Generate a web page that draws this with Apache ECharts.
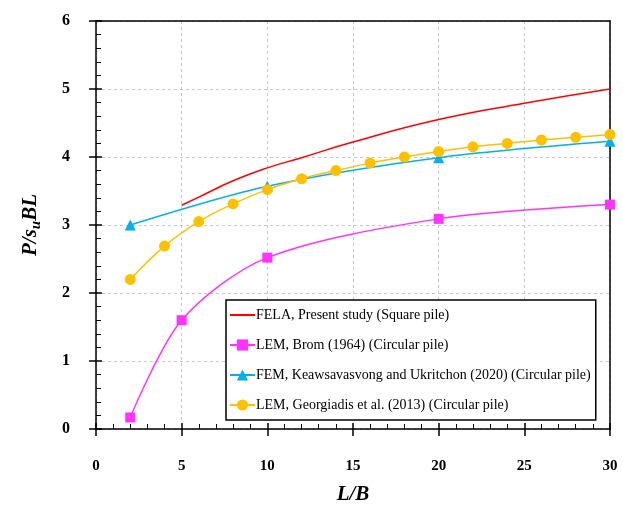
<!DOCTYPE html>
<html>
<head>
<meta charset="utf-8">
<script src="https://cdn.jsdelivr.net/npm/echarts@6/dist/echarts.min.js"></script>
<style>
html, body { margin: 0; padding: 0; background: #fff; }
#chart { width: 623px; height: 510px; }
</style>
</head>
<body>
<div id="chart"></div>
<script>
// data
var felaX = [5, 6, 8, 10, 12, 15, 20, 25, 30]
var felaY = [3.29, 3.41, 3.65, 3.84, 3.99, 4.22, 4.55, 4.79, 5.0]
var bromX = [2, 5, 10, 20, 30]
var bromY = [0.17, 1.6, 2.52, 3.09, 3.3]
var femX = [2, 10, 20, 30]
var femY = [3.0, 3.57, 3.99, 4.23]
var geoX = [2, 4, 6, 8, 10, 12, 14, 16, 18, 20, 22, 24, 26, 28, 30]
var geoY = [2.2, 2.69, 3.05, 3.31, 3.52, 3.68, 3.8, 3.91, 4.0, 4.08, 4.15, 4.2, 4.25, 4.29, 4.33]
var names = [
    'FELA, Present study (Square pile)',
    'LEM, Brom (1964) (Circular pile)',
    'FEM, Keawsavasvong and Ukritchon (2020) (Circular pile)',
    'LEM, Georgiadis et al. (2013) (Circular pile)'
]

function pairs (xs, ys) {
    return xs.map(function (x, i) { return [x, ys[i]] })
}

var serif = 'Liberation Serif'
var myChart = echarts.init(document.getElementById('chart'))

var gridLine = {
    show: true,
    lineStyle: { color: '#c8c8c8', type: [3, 3], width: 1 }
}
var blackLine = { color: '#000', width: 1.5 }

// extra axes only for outer tick halves and the top/right frame
function plainX (pos, ticks) {
    return {
        type: 'value', position: pos, min: 0, max: 30, interval: 5,
        axisLine: { show: !ticks, onZero: false, lineStyle: blackLine },
        axisTick: { show: ticks, inside: false, length: 7, lineStyle: blackLine },
        axisLabel: { show: false },
        splitLine: { show: false }
    }
}
function plainY (pos, ticks) {
    return {
        type: 'value', position: pos, min: 0, max: 6, interval: 1,
        axisLine: { show: !ticks, onZero: false, lineStyle: blackLine },
        axisTick: { show: ticks, inside: false, length: 7, lineStyle: blackLine },
        axisLabel: { show: false },
        splitLine: { show: false }
    }
}

myChart.setOption({
    animation: false,
    grid: {
        left: 96,
        right: 13,
        top: 21,
        bottom: 77
    },
    legend: {
        orient: 'vertical',
        left: 226,
        top: 300,
        padding: [8, 5, 8, 3],
        itemGap: 16,
        itemWidth: 25,
        itemHeight: 14,
        backgroundColor: '#fff',
        borderColor: '#000',
        borderWidth: 1.5,
        borderRadius: 0,
        textStyle: { fontFamily: serif, fontSize: 14, color: '#000', padding: [0, 0, 0, -4] },
        data: [
            { name: names[0], itemStyle: { color: 'transparent', borderWidth: 0 } },
            names[1], names[2], names[3]
        ]
    },
    xAxis: [{
        type: 'value',
        min: 0,
        max: 30,
        interval: 5,
        name: '{i|L/B}',
        nameLocation: 'middle',
        nameGap: 55,
        nameTextStyle: {
            rich: { i: { fontFamily: serif, fontSize: 21, fontStyle: 'italic', fontWeight: 'bold', color: '#000' } }
        },
        axisLine: { onZero: false, lineStyle: blackLine },
        axisTick: { inside: true, length: 6, lineStyle: blackLine },
        minorTick: { show: true, splitNumber: 5, length: 5, lineStyle: { color: '#000', width: 1 } },
        axisLabel: { fontFamily: serif, fontSize: 15, fontWeight: 'bold', color: '#000', margin: 30 },
        splitLine: gridLine
    }, plainX('bottom', true), plainX('top', false)],
    yAxis: [{
        type: 'value',
        min: 0,
        max: 6,
        interval: 1,
        name: '{a|P/s}{b|u}{a|BL}',
        nameLocation: 'middle',
        nameGap: 52,
        nameTextStyle: {
            rich: {
                a: { fontFamily: serif, fontSize: 21, fontStyle: 'italic', fontWeight: 'bold', color: '#000', lineHeight: 26 },
                b: { fontFamily: serif, fontSize: 15, fontStyle: 'italic', fontWeight: 'bold', color: '#000', padding: [10, 0, 0, 0], lineHeight: 26 }
            }
        },
        axisLine: { onZero: false, lineStyle: blackLine },
        axisTick: { inside: true, length: 6, lineStyle: blackLine },
        minorTick: { show: true, splitNumber: 5, length: 5, lineStyle: { color: '#000', width: 1 } },
        axisLabel: { fontFamily: serif, fontSize: 16, fontWeight: 'bold', color: '#000', margin: 26 },
        splitLine: gridLine
    }, plainY('left', true), plainY('right', false)],
    series: [{
        name: names[0],
        type: 'line',
        smooth: true,
        symbol: 'none',
        data: pairs(felaX, felaY),
        itemStyle: { color: '#ff0000' },
        lineStyle: { width: 1.5 },
        z: 3
    }, {
        name: names[1],
        type: 'line',
        smooth: 0.3,
        symbol: 'rect',
        symbolSize: 10,
        data: pairs(bromX, bromY),
        itemStyle: { color: '#ff33ff' },
        lineStyle: { width: 1.5 },
        z: 4
    }, {
        name: names[2],
        type: 'line',
        smooth: 0.3,
        symbol: 'triangle',
        symbolSize: 11,
        data: pairs(femX, femY),
        itemStyle: { color: '#00b0f0' },
        lineStyle: { width: 1.5 },
        z: 5
    }, {
        name: names[3],
        type: 'line',
        smooth: 0.4,
        symbol: 'circle',
        symbolSize: 11,
        data: pairs(geoX, geoY),
        itemStyle: { color: '#ffc000' },
        lineStyle: { width: 1.5 },
        z: 6
    }]
})
</script>
</body>
</html>
